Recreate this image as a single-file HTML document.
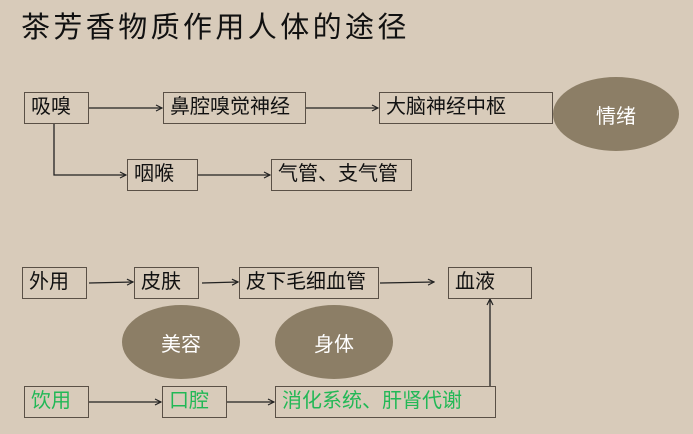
<!DOCTYPE html>
<html><head><meta charset="utf-8"><style>
html,body{margin:0;padding:0}
body{width:693px;height:434px;background:#d8cbba;position:relative;overflow:hidden;font-family:"Liberation Sans","Noto Sans CJK SC",sans-serif}
.t{position:absolute;left:21px;top:4px;font-size:29px;letter-spacing:3.4px;color:#111;white-space:nowrap}
.b{position:absolute;border:1.3px solid #5a5046;box-sizing:border-box;font-size:20px;color:#111;padding-left:6px;white-space:nowrap;line-height:28px}
.g{color:#22b856}
.e{position:absolute;border-radius:50%;background:#8c7e66;color:#fff;font-size:20px;display:flex;align-items:center;justify-content:center}
svg{position:absolute;left:0;top:0}
</style></head><body>
<div class="t">茶芳香物质作用人体的途径</div>
<svg width="693" height="434"><defs><marker id="a" markerWidth="8" markerHeight="8" refX="7" refY="4" orient="auto" markerUnits="userSpaceOnUse"><path d="M1,1 L7,4 L1,7" fill="none" stroke="#222" stroke-width="1.2"/></marker></defs>
<g stroke="#222" stroke-width="1.3" fill="none">
<line x1="89" y1="108" x2="162" y2="108" marker-end="url(#a)"/>
<line x1="306" y1="108" x2="378" y2="108" marker-end="url(#a)"/>
<polyline points="54,123 54,175 126,175" marker-end="url(#a)"/>
<line x1="198" y1="175" x2="270" y2="175" marker-end="url(#a)"/>
<line x1="89" y1="283" x2="133" y2="282" marker-end="url(#a)"/>
<line x1="202" y1="283" x2="238" y2="282" marker-end="url(#a)"/>
<line x1="380" y1="283" x2="434" y2="282" marker-end="url(#a)"/>
<line x1="89" y1="402" x2="161" y2="402" marker-end="url(#a)"/>
<line x1="227" y1="402" x2="274" y2="402" marker-end="url(#a)"/>
<line x1="490" y1="386" x2="490" y2="299" marker-end="url(#a)"/>
</g></svg>
<div class="b" style="left:24px;top:92px;width:65px;height:32px">吸嗅</div>
<div class="b" style="left:163px;top:92px;width:143px;height:32px">鼻腔嗅觉神经</div>
<div class="b" style="left:379px;top:92px;width:174px;height:32px">大脑神经中枢</div>
<div class="e" style="left:553px;top:77px;width:126px;height:74px">情绪</div>
<div class="b" style="left:127px;top:159px;width:71px;height:32px">咽喉</div>
<div class="b" style="left:271px;top:159px;width:141px;height:32px">气管、支气管</div>
<div class="b" style="left:22px;top:267px;width:65px;height:32px">外用</div>
<div class="b" style="left:134px;top:267px;width:65px;height:32px">皮肤</div>
<div class="b" style="left:239px;top:267px;width:140px;height:32px">皮下毛细血管</div>
<div class="b" style="left:448px;top:267px;width:84px;height:32px">血液</div>
<div class="e" style="left:122px;top:305px;width:118px;height:74px">美容</div>
<div class="e" style="left:275px;top:305px;width:118px;height:74px">身体</div>
<div class="b g" style="left:24px;top:386px;width:65px;height:32px">饮用</div>
<div class="b g" style="left:162px;top:386px;width:65px;height:32px">口腔</div>
<div class="b g" style="left:275px;top:386px;width:221px;height:32px">消化系统、肝肾代谢</div>
</body></html>
